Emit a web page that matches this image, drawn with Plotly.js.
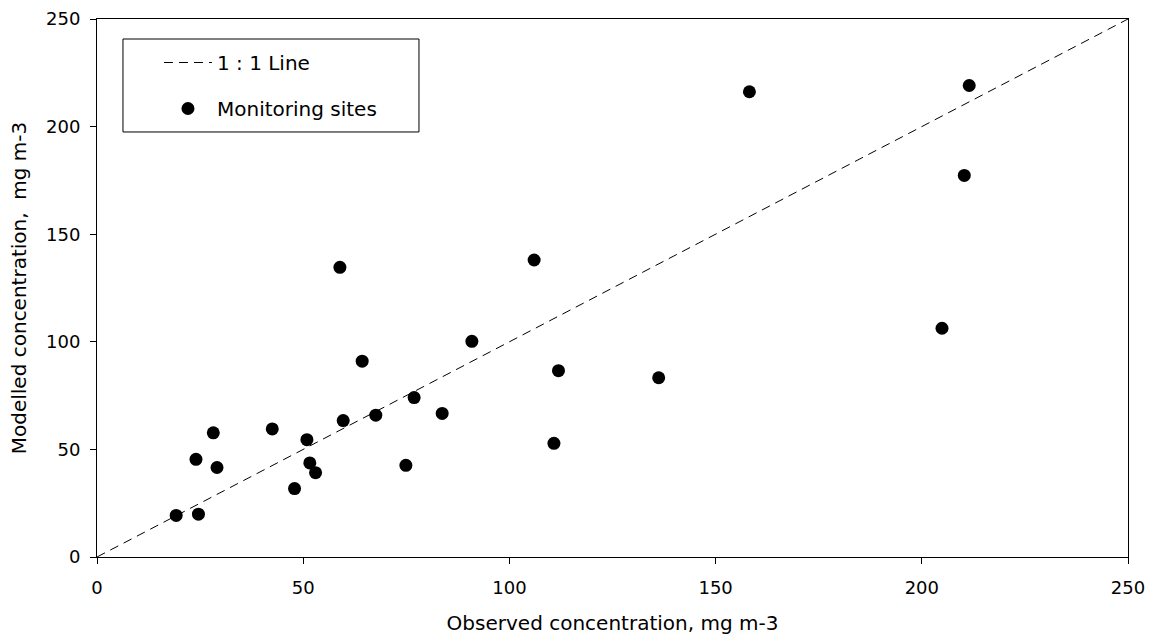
<!DOCTYPE html>
<html>
<head>
<meta charset="utf-8">
<script src="https://cdn.plot.ly/plotly-3.0.1.min.js"></script>
<style>html,body{margin:0;padding:0;background:#fff;}#chart{width:1149px;height:635px;}</style>
</head>
<body>
<div id="chart"></div>
<script>
// Observed vs modelled concentrations at monitoring sites
const observed = [19.2, 24.6, 24.0, 28.2, 29.1, 42.5, 47.9, 50.9, 51.6, 53.0, 59.7, 67.6, 74.9, 76.9, 83.7,
                  58.9, 106.0, 64.3, 90.9, 111.9, 136.2, 110.8, 158.2, 211.5, 210.3, 204.9];
const modelled = [19.3, 19.9, 45.4, 57.7, 41.6, 59.5, 31.8, 54.5, 43.7, 39.2, 63.4, 65.9, 42.6, 74.1, 66.7,
                  134.6, 138.0, 91.0, 100.2, 86.6, 83.3, 52.8, 216.2, 219.1, 177.3, 106.3];
// 1:1 reference line end points
const lineX = [0, 250];
const lineY = [0, 250];
const tickVals = [0, 50, 100, 150, 200, 250];

const font = "Verdana, 'DejaVu Sans', sans-serif";

const traces = [
  {
    x: lineX, y: lineY, type: 'scatter', mode: 'lines', name: '1 : 1 Line',
    line: {color: '#000', width: 1, dash: '9px,6px'},
    legendgroup: 'a', hoverinfo: 'skip'
  },
  {
    x: observed, y: modelled, type: 'scatter', mode: 'markers', name: 'Monitoring sites',
    marker: {color: '#000', size: 13},
    legendgroup: 'b'
  }
];

const axisCommon = {
  range: [0, 250], tickvals: tickVals, ticktext: tickVals.map(String),
  showgrid: false, zeroline: false, showline: true, linecolor: '#000', linewidth: 1,
  mirror: true, ticks: 'outside', ticklen: 6, tickcolor: '#000', tickwidth: 1,
  tickfont: {family: font, size: 18, color: '#000'}, fixedrange: true, automargin: false
};

const layout = {
  width: 1149, height: 635,
  margin: {l: 97, r: 21, t: 19, b: 78},
  paper_bgcolor: '#fff', plot_bgcolor: '#fff',
  font: {family: font, size: 18, color: '#000'},
  showlegend: true,
  xaxis: Object.assign({}, axisCommon, {
    title: {text: 'Observed concentration, mg m-3', font: {family: font, size: 20, color: '#000'}, standoff: 19},
    ticklabelstandoff: 8
  }),
  yaxis: Object.assign({}, axisCommon, {
    title: {text: 'Modelled concentration,\u00a0 mg m-3', font: {family: font, size: 20, color: '#000'}, standoff: 14},
    ticklabelstandoff: 6
  }),
  xaxis2: {
    overlaying: 'x', anchor: 'y', side: 'bottom', range: [0, 250], tickvals: tickVals,
    showticklabels: false, showgrid: false, zeroline: false, showline: false,
    ticks: 'inside', ticklen: 6, tickcolor: '#000', tickwidth: 1, fixedrange: true
  },
  yaxis2: {
    overlaying: 'y', anchor: 'x', side: 'left', range: [0, 250], tickvals: tickVals,
    showticklabels: false, showgrid: false, zeroline: false, showline: false,
    ticks: 'inside', ticklen: 6, tickcolor: '#000', tickwidth: 1, fixedrange: true
  },
  legend: {
    x: 0.0601, y: 0.9554, xanchor: 'left', yanchor: 'top',
    bgcolor: 'rgba(0,0,0,0)', borderwidth: 0,
    traceorder: 'grouped', tracegroupgap: 17, itemwidth: 48,
    font: {family: font, size: 20, color: '#000'}
  },
  shapes: [{
    type: 'rect', xref: 'paper', yref: 'paper',
    x0: 0.0252, x1: 0.3123, y0: 0.790, y1: 0.9628,
    line: {color: '#000', width: 1}, fillcolor: 'rgba(0,0,0,0)', layer: 'below'
  }]
};

Plotly.newPlot('chart', traces, layout, {displayModeBar: false, staticPlot: true});
</script>
</body>
</html>
